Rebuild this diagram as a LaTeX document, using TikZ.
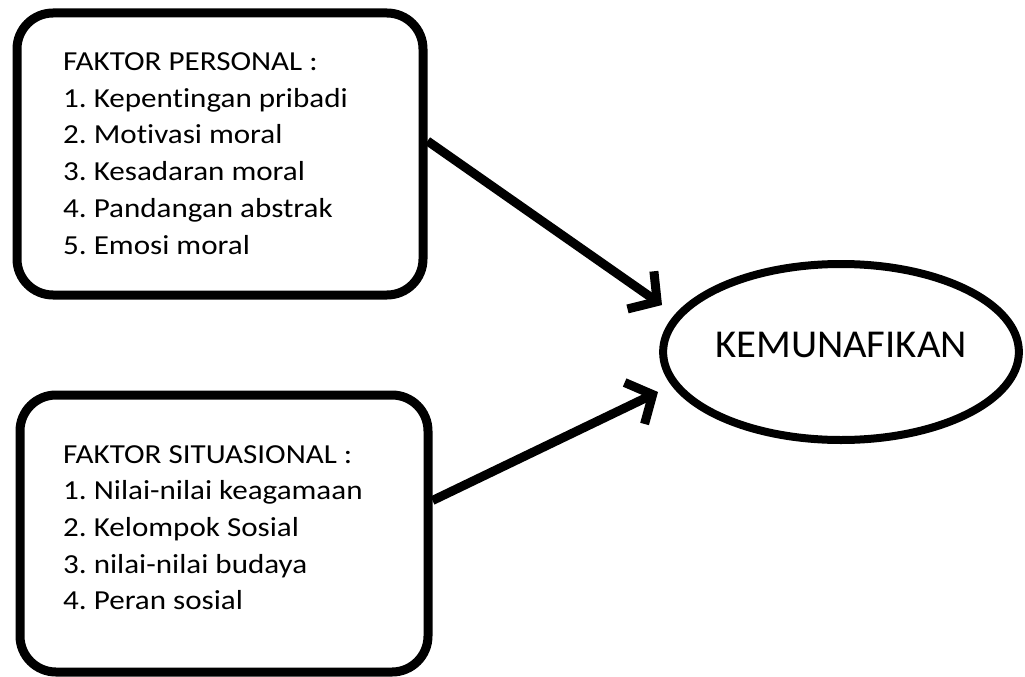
\documentclass[tikz,border=0pt]{standalone}
\usepackage{fontspec}
\setmainfont{Carlito}[RawFeature=-liga, FakeStretch=1.13]
\newfontfamily\titlefont{Carlito}[RawFeature=-liga, FakeStretch=1.03]
\usetikzlibrary{arrows.meta,shapes.geometric}
\frenchspacing
\tikzset{
  factorbox/.style={draw=black, line width=9pt, rounded corners=36pt, inner sep=0pt, fill=white},
  listtext/.style={anchor=north west, inner sep=0pt, align=left, font=\fontsize{27.5}{36.7}\selectfont},
  outcome/.style={draw=black, ellipse, line width=8pt, inner sep=0pt, minimum width=354pt, minimum height=176pt, text height=25.7pt, text depth=14pt, font=\titlefont\fontsize{39.5}{44}\selectfont},
  link/.style={line width=9pt, -{Straight Barb[length=20pt,width=46pt]}}
}
\begin{document}
\begin{tikzpicture}[x=1pt,y=-1pt]
\useasboundingbox (0,0) rectangle (1025,677);
\node[factorbox, minimum width=406pt, minimum height=282pt] (b1) at (220,154) {};
\node[factorbox, minimum width=408pt, minimum height=277pt] (b2) at (224,533.5) {};
\node[listtext] (t1) at (63,52.5) {FAKTOR PERSONAL :\\1. Kepentingan pribadi\\2. Motivasi moral\\3. Kesadaran moral\\4. Pandangan abstrak\\5. Emosi moral};
\node[listtext] (t2) at (63,445) {FAKTOR SITUASIONAL :\\1. Nilai-nilai keagamaan\\2. Kelompok Sosial\\3. nilai-nilai budaya\\4. Peran sosial};
\node[outcome] (k) at (841,352) {KEMUNAFIKAN};
\coordinate (tip1) at (662,305);
\coordinate (tip2) at (658,392);
\draw[link] ([yshift=13pt]b1.east) -- (tip1);
\draw[link] ([yshift=33pt]b2.east) -- (tip2);
\end{tikzpicture}
\end{document}
